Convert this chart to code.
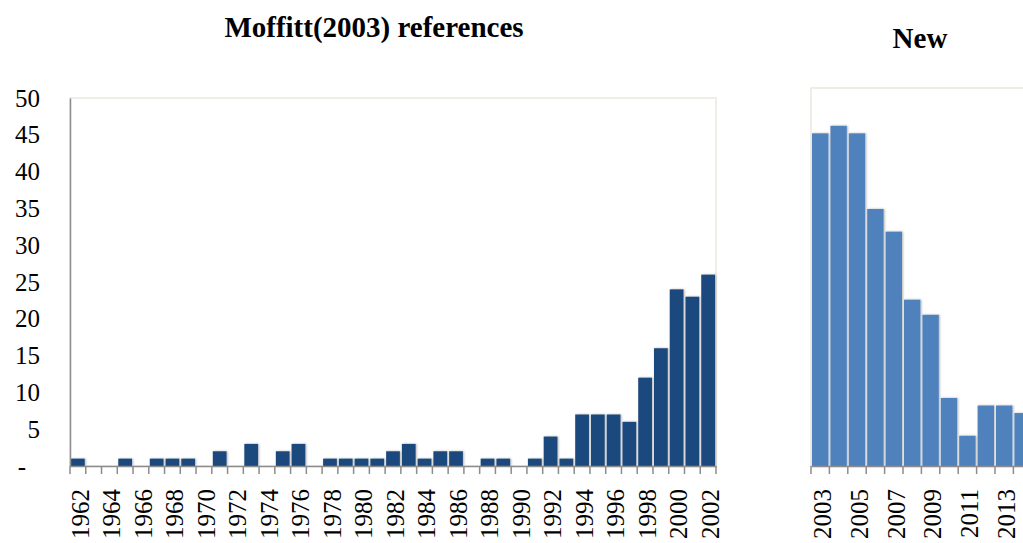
<!DOCTYPE html>
<html>
<head>
<meta charset="utf-8">
<script src="https://cdn.jsdelivr.net/npm/d3@7"></script>
<style>
  body { margin: 0; background: #fff; overflow: hidden; }
  text { font-family: 'Liberation Serif', 'Times New Roman', serif; fill: #000; }
  .axis .domain { stroke: #8c8c8c; stroke-width: 1.5; }
  .axis text { font-size: 25px; }
  .title { font-size: 29px; font-weight: bold; }
</style>
</head>
<body>
<div id="chart"></div>
<script>
// Moffitt(2003) references per year
const oldYears = d3.range(1962, 2003)
const oldCounts = [1, 0, 0, 1, 0, 1, 1, 1, 0, 2, 0, 3, 0, 2, 3, 0, 1, 1, 1, 1,
  2, 3, 1, 2, 2, 0, 1, 1, 0, 1, 4, 1, 7, 7, 7, 6, 12, 16, 24, 23, 26]

// new references per year (chart is cut at the right edge)
const newYears = d3.range(2003, 2015)
const newCounts = [44, 45, 44, 34, 31, 22, 20, 9, 4, 8, 8, 7]

const yTicks = [0, 5, 10, 15, 20, 25, 30, 35, 40, 45, 50]

const width = 1023
const height = 543

const svg = d3
  .select('#chart')
  .append('svg')
  .attr('width', width)
  .attr('height', height)

const defs = svg.append('defs')
defs
  .append('filter')
  .attr('id', 'shadow')
  .attr('x', '-30%')
  .attr('y', '-10%')
  .attr('width', '160%')
  .attr('height', '120%')
  .append('feDropShadow')
  .attr('dx', 1)
  .attr('dy', 0)
  .attr('stdDeviation', 1.2)
  .attr('flood-color', '#000')
  .attr('flood-opacity', 0.3)

function drawPanel(opts) {
  const x = d3
    .scaleBand()
    .domain(opts.years)
    .range([opts.left, opts.right])
  const y = d3
    .scaleLinear()
    .domain([0, 50])
    .range([opts.bottom, opts.top])

  const g = svg.append('g')

  // plot border
  g.append('rect')
    .attr('x', opts.left)
    .attr('y', opts.top)
    .attr('width', opts.right - opts.left)
    .attr('height', opts.bottom - opts.top)
    .attr('fill', 'none')
    .attr('stroke', '#ece8df')
    .attr('stroke-width', 1.5)

  const rows = d3.zip(opts.years, opts.counts).filter(d => d[1] > 0)

  g.selectAll('.bar')
    .data(rows)
    .enter()
    .append('rect')
    .attr('class', 'bar')
    .attr('x', d => x(d[0]) + 1)
    .attr('width', x.bandwidth() - 2)
    .attr('y', d => y(d[1]))
    .attr('height', d => y(0) - y(d[1]))
    .attr('fill', opts.color)
    .attr('filter', 'url(#shadow)')

  // x axis: labels under every other bar
  const xAxis = d3
    .axisBottom(x)
    .tickSize(0)
    .tickSizeOuter(0)
    .tickFormat((d, i) => (i % 2 === 0 ? d : ''))
  const gx = g
    .append('g')
    .attr('class', 'axis x-axis')
    .attr('transform', 'translate(0,' + opts.bottom + ')')
    .call(xAxis)
  gx.selectAll('.tick text')
    .attr('transform', 'translate(2,23) rotate(-90)')
    .attr('text-anchor', 'end')
    .attr('x', 0)
    .attr('y', 0)
    .attr('dy', '0.35em')

  // tick marks sit on the category boundaries
  const edges = opts.years.map(d => x(d)).concat([opts.right])
  gx.selectAll('.edge')
    .data(edges)
    .enter()
    .append('line')
    .attr('class', 'edge')
    .attr('x1', d => d)
    .attr('x2', d => d)
    .attr('y1', 0)
    .attr('y2', 8)
    .attr('stroke', '#8c8c8c')
    .attr('stroke-width', 1.5)

  if (opts.yAxis) {
    const yAxis = d3
      .axisLeft(y)
      .tickValues(yTicks)
      .tickSize(0)
      .tickSizeOuter(0)
      .tickPadding(30)
      .tickFormat(d => (d === 0 ? '-' : d))
    const gy = g
      .append('g')
      .attr('class', 'axis y-axis')
      .attr('transform', 'translate(' + opts.left + ',0)')
      .call(yAxis)
    gy.selectAll('.tick text').filter(d => d === 0).attr('x', -44)
  }

  g.append('text')
    .attr('class', 'title')
    .attr('x', opts.titleX)
    .attr('y', opts.titleY)
    .attr('text-anchor', 'middle')
    .text(opts.title)
}

drawPanel({
  years: oldYears,
  counts: oldCounts,
  left: 70,
  right: 716,
  top: 98,
  bottom: 466,
  color: '#1f497d',
  yAxis: true,
  title: 'Moffitt(2003) references',
  titleX: 374,
  titleY: 37
})

drawPanel({
  years: newYears,
  counts: newCounts,
  left: 811,
  right: 811 + 18.4 * newYears.length,
  top: 88,
  bottom: 466,
  color: '#4f81bd',
  yAxis: false,
  title: 'New',
  titleX: 920,
  titleY: 48
})
</script>
</body>
</html>
